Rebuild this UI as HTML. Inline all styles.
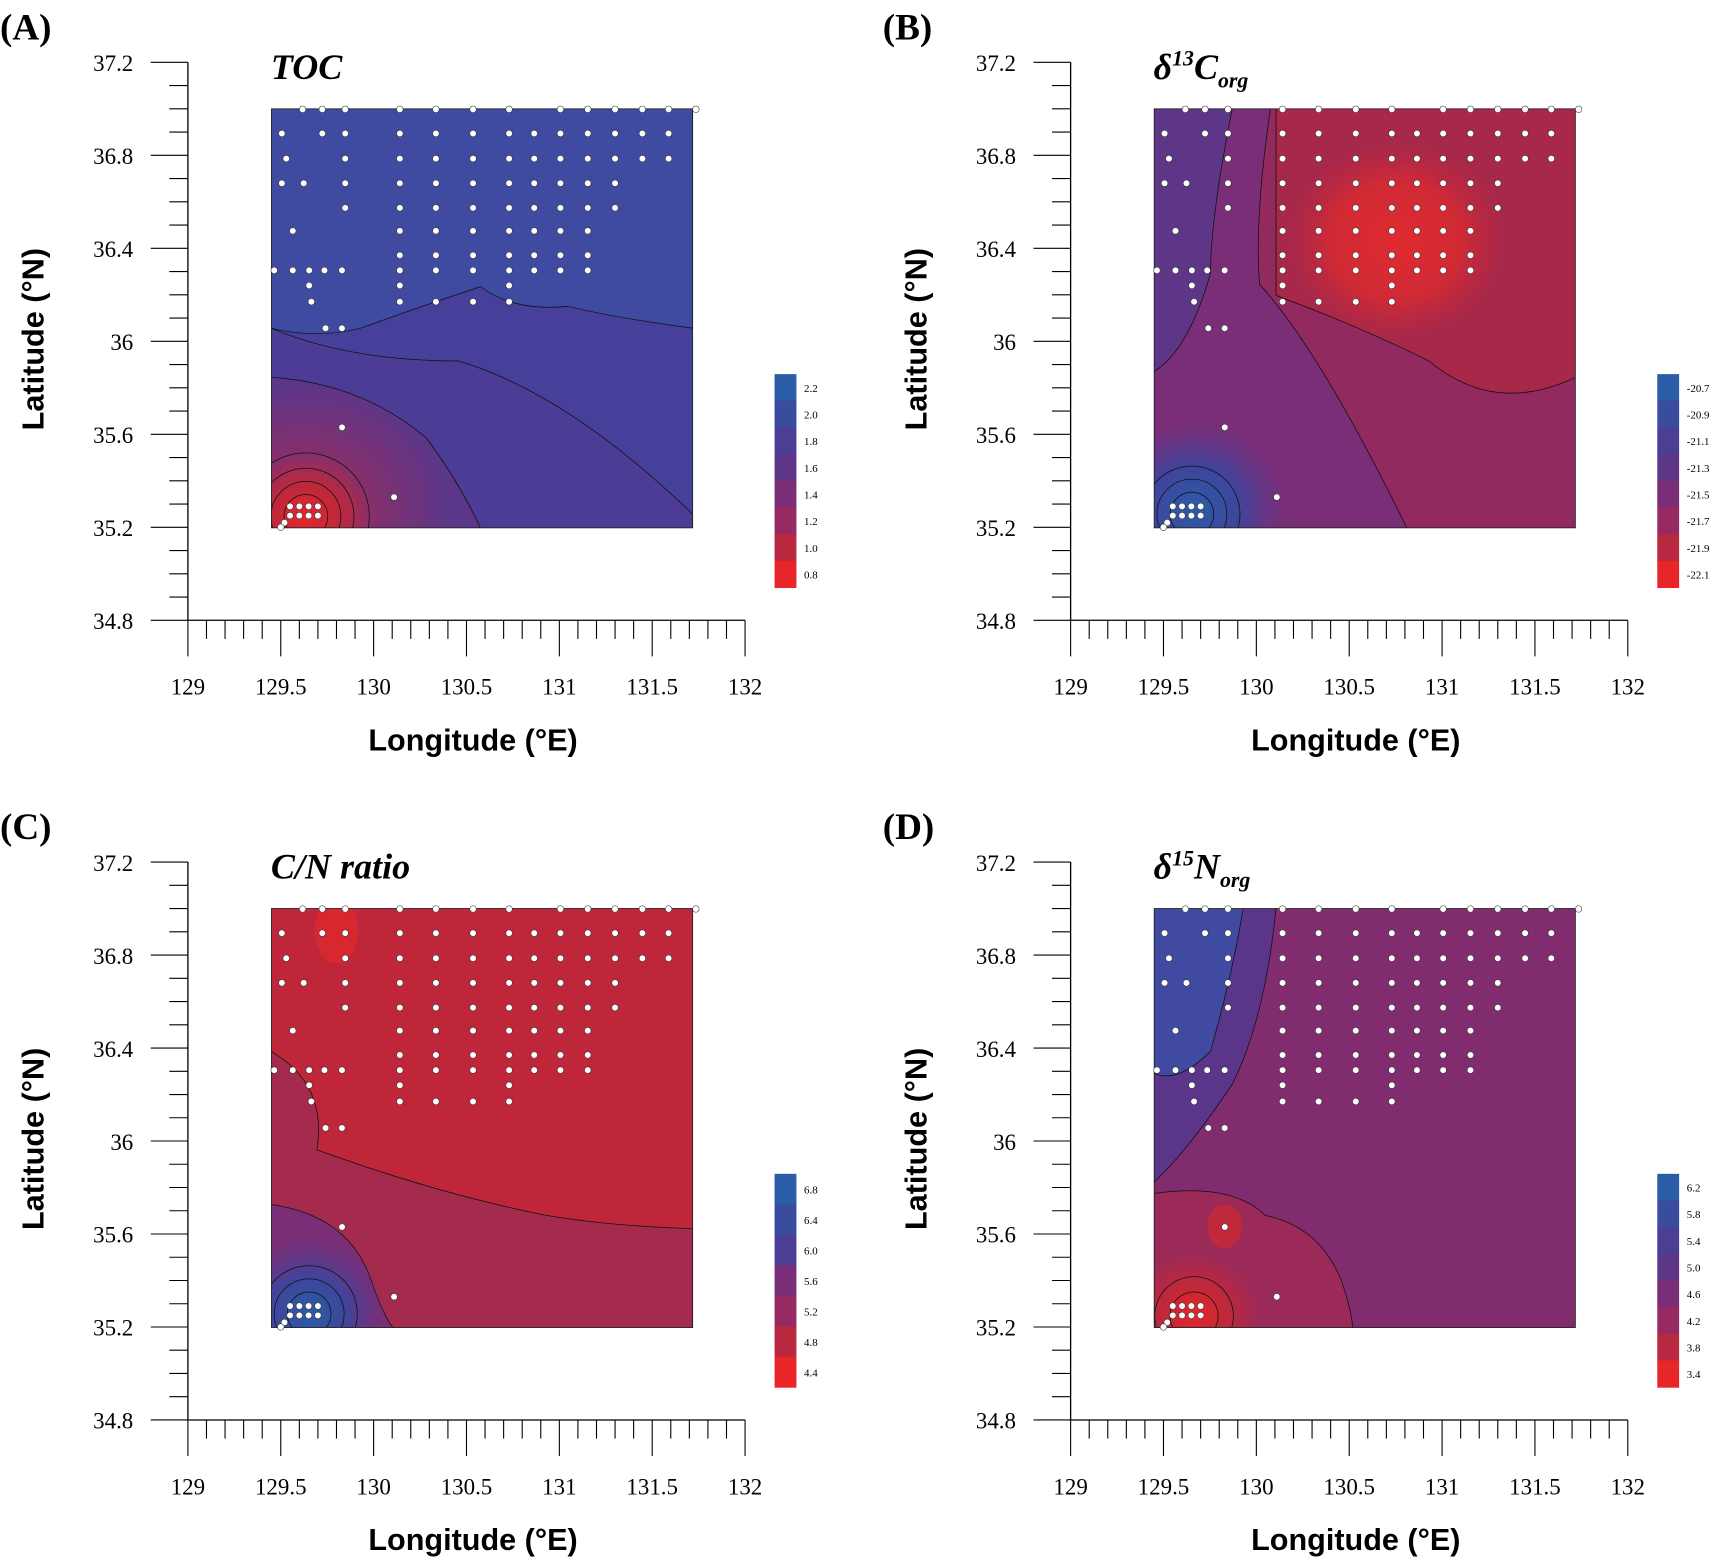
<!DOCTYPE html>
<html><head><meta charset="utf-8"><style>
html,body{margin:0;padding:0;background:#fff}
svg{display:block}
text{font-family:"Liberation Sans",sans-serif}
.serif{font-family:"Liberation Serif",serif}
</style></head><body>
<svg id="fig" width="1713" height="1560" viewBox="0 0 1568 1426" preserveAspectRatio="none" xmlns="http://www.w3.org/2000/svg">
<defs>
<radialGradient id="gRed"><stop offset="0" stop-color="#e8262a"/><stop offset="0.45" stop-color="#c22838"/><stop offset="1" stop-color="#c22838" stop-opacity="0"/></radialGradient>
<radialGradient id="gBlue"><stop offset="0" stop-color="#2a5ca8"/><stop offset="0.5" stop-color="#40449a"/><stop offset="1" stop-color="#5a3a8e" stop-opacity="0"/></radialGradient>
<radialGradient id="gMag"><stop offset="0" stop-color="#a82a52"/><stop offset="1" stop-color="#a82a52" stop-opacity="0"/></radialGradient>
<radialGradient id="gBrightRed"><stop offset="0" stop-color="#e02a30"/><stop offset="0.6" stop-color="#d02a35"/><stop offset="1" stop-color="#c0283c" stop-opacity="0"/></radialGradient>
<clipPath id="clipData"><rect x="248.5" y="99.5" width="385.5" height="383"/></clipPath>
</defs>
</svg>
<script>
// ---- data ----
const panelLetters = ["(A)","(B)","(C)","(D)"];
const panelOffsets = [[0,0],[808,0],[0,731],[808,731]];
const yTicks = [37.2,36.8,36.4,36,35.6,35.2,34.8];
const xTicks = [129,129.5,130,130.5,131,131.5,132];
const cbLabelsA = ["2.2","2.0","1.8","1.6","1.4","1.2","1.0","0.8"];
const cbLabelsB = ["-20.7","-20.9","-21.1","-21.3","-21.5","-21.7","-21.9","-22.1"];
const cbLabelsC = ["6.8","6.4","6.0","5.6","5.2","4.8","4.4"];
const cbLabelsD = ["6.2","5.8","5.4","5.0","4.6","4.2","3.8","3.4"];
const cbColors = ["#2a5ca8","#3a4c9e","#4a3f94","#5e3688","#7a2e78","#972a62","#b8283f","#e8262a"];
// station positions (lon, lat)
const stationLon = [], stationLat = [];
const rowLat = [36.998,36.894,36.786,36.68,36.574,36.475,36.37,36.305,36.24,36.17,36.056];
const rowX = [
 [277,295,316,366,399,433,466,513,538,563,588,612,637],
 [258,295,316,366,399,433,466,489,513,538,563,588,612],
 [262,316,366,399,433,466,489,513,538,563,588,612],
 [258,278,316,366,399,433,466,489,513,538,563],
 [316,366,399,433,466,489,513,538,563],
 [268,366,399,433,466,489,513,538],
 [366,399,433,466,489,513,538],
 [251,268,283,297,313,366,399,433,466,489,513,538],
 [283,366,466],
 [285,366,399,433,466],
 [298,313]
];
rowX.forEach((r,i)=>r.forEach(x=>{stationLon.push((x-172)/170+129);stationLat.push(rowLat[i]);}));
const extraLon=[129.83,130.11,129.55,129.6,129.65,129.7,129.55,129.6,129.65,129.7,129.52,129.5];
const extraLat=[35.63,35.33,35.29,35.29,35.29,35.29,35.25,35.25,35.25,35.25,35.22,35.2];
extraLon.forEach((v,i)=>{stationLon.push(v);stationLat.push(extraLat[i]);});

// ---- axes ----
const X = lon => 172 + (lon-129)*170;
const Y = lat => 57 + (37.2-lat)*212.5;
const NS="http://www.w3.org/2000/svg";
const svg=document.getElementById('fig');
function el(tag,attrs,parent,txt){const e=document.createElementNS(NS,tag);for(const k in attrs)e.setAttribute(k,attrs[k]);if(txt!==undefined)e.textContent=txt;parent.appendChild(e);return e;}
function rings(g,cx,cy,rs){rs.forEach(r=>el('circle',{cx:cx,cy:cy,r:r,fill:'none',stroke:'#111','stroke-width':0.7},g));}

const fills = [
 // A
 g=>{el('rect',{x:248,y:99,width:387,height:384,fill:'#46409a'},g);
  el('path',{d:'M248 99 H634 V300 Q560 290 520 280 Q470 285 440 262 Q400 275 330 300 Q290 310 248 300 Z',fill:'#3f4ba0'},g);
  el('path',{d:'M248 300 Q320 330 420 330 Q520 360 634 470 V483 H248 Z',fill:'#4c3c95'},g);
  el('path',{d:'M248 345 Q330 350 390 400 Q420 440 440 483 H248 Z',fill:'#5c3689'},g);
  el('ellipse',{cx:280,cy:470,rx:130,ry:120,fill:'url(#gMag)'},g);
  el('ellipse',{cx:280,cy:472,rx:60,ry:55,fill:'url(#gRed)'},g);
  rings(g,280,472,[20,32,44,58]);},
 // B
 g=>{el('rect',{x:248,y:99,width:387,height:384,fill:'#922a60'},g);
  el('path',{d:'M248 99 H355 Q340 200 345 260 Q400 320 480 483 H248 Z',fill:'#7a2e78'},g);
  el('path',{d:'M248 99 H320 Q300 200 300 250 Q280 320 248 340 Z',fill:'#5e3688'},g);
  el('path',{d:'M360 99 H634 V345 Q560 380 500 330 Q440 300 360 270 Z',fill:'#a8284a'},g);
  el('ellipse',{cx:470,cy:220,rx:100,ry:90,fill:'url(#gBrightRed)'},g);
  el('ellipse',{cx:285,cy:465,rx:85,ry:80,fill:'url(#gBlue)'},g);
  rings(g,283,470,[20,32,44]);},
 // C
 g=>{el('rect',{x:248,y:99,width:387,height:384,fill:'#c0263a'},g);
  el('path',{d:'M248 230 Q300 260 290 320 Q400 360 500 380 Q560 390 634 392 V483 H248 Z',fill:'#a42a4e'},g);
  el('path',{d:'M248 370 Q320 380 340 440 Q350 470 360 483 H248 Z',fill:'#7a2e76'},g);
  el('ellipse',{cx:283,cy:470,rx:70,ry:70,fill:'url(#gBlue)'},g);
  el('ellipse',{cx:308,cy:120,rx:20,ry:30,fill:'#d6282e'},g);
  rings(g,283,470,[20,32,44]);},
 // D
 g=>{el('rect',{x:248,y:99,width:387,height:384,fill:'#822c70'},g);
  el('path',{d:'M248 99 H360 Q350 200 320 260 Q280 320 248 350 Z',fill:'#5a3589'},g);
  el('path',{d:'M248 99 H330 Q320 160 300 230 Q270 260 248 250 Z',fill:'#3f4aa0'},g);
  el('path',{d:'M248 360 Q320 350 350 380 Q400 390 420 440 Q430 470 430 483 H248 Z',fill:'#9c2a58'},g);
  el('ellipse',{cx:285,cy:470,rx:60,ry:55,fill:'url(#gRed)'},g);
  el('ellipse',{cx:313,cy:390,rx:16,ry:20,fill:'#c0283c'},g);
  rings(g,285,472,[22,36]);}
];
const titles=[["TOC",""],["δ","13","C","org"],["C/N ratio",""],["δ","15","N","org"]];
const cbLabels=[cbLabelsA,cbLabelsB,cbLabelsC,cbLabelsD];

panelOffsets.forEach((off,p)=>{
 const g=el('g',{transform:`translate(${off[0]},${off[1]})`},svg);
 
 
 const lt=el('text',{x:0,y:36,'font-size':34,'font-weight':'bold',class:'serif'},g,panelLetters[p]);
 
 
 const mg=el('g',{'clip-path':'url(#clipData)'},g);
 
 
 fills[p](mg);
 mg.querySelectorAll('path').forEach(pp=>{pp.setAttribute('stroke','#111');pp.setAttribute('stroke-width','0.7');});
 el('rect',{x:248.5,y:99.5,width:385.5,height:383,fill:'none',stroke:'#222','stroke-width':0.8},g);
 stationLon.forEach((lo,i)=>{
  const c=el('circle',{cx:X(lo),cy:Y(stationLat[i]),r:3,fill:'#fff',stroke:'#333','stroke-width':0.5},g);
  
  
 });
 el('line',{x1:172,y1:Y(37.2),x2:172,y2:Y(34.8),stroke:'#000','stroke-width':1.2},g);
 for(let v=34.8;v<=37.2001;v+=0.1){const maj=yTicks.some(t=>Math.abs(t-v)<1e-6);
  el('line',{x1:maj?138:155,y1:Y(v),x2:172,y2:Y(v),stroke:'#000','stroke-width':1},g);}
 yTicks.forEach(t=>{const tx=el('text',{x:122,y:Y(t)+8,'font-size':21,'text-anchor':'end',class:'serif'},g,String(t));
  });
 el('line',{x1:172,y1:567,x2:682,y2:567,stroke:'#000','stroke-width':1.2},g);
 for(let v=129;v<=132.001;v+=0.1){const maj=xTicks.some(t=>Math.abs(t-v)<1e-6);
  el('line',{x1:X(v),y1:567,x2:X(v),y2:maj?600:584,stroke:'#000','stroke-width':1},g);}
 xTicks.forEach(t=>{const tx=el('text',{x:X(t),y:635,'font-size':21,'text-anchor':'middle',class:'serif'},g,String(t));
  });
 const yt=el('text',{x:0,y:0,transform:'translate(40,310) rotate(-90)','font-size':28,'font-weight':'bold','text-anchor':'middle'},g,'Latitude (°N)');
 
 const xt=el('text',{x:433,y:686,'font-size':28,'font-weight':'bold','text-anchor':'middle'},g,'Longitude (°E)');
 
 const t=titles[p];
 const tt=el('text',{x:248,y:72,'font-size':33,'font-weight':'bold','font-style':'italic',class:'serif'},g);
 
 if(t.length==2){tt.textContent=t[0];}else{
  el('tspan',{},tt,t[0]);el('tspan',{dy:-12,'font-size':20},tt,t[1]);el('tspan',{dy:12},tt,t[2]);el('tspan',{dy:8,'font-size':20},tt,t[3]);}
 const labs=cbLabels[p]; const n=labs.length; const cy0=342, ch=195; const bh=ch/n;
 const cb=el('g',{},g);
 for(let i=0;i<n;i++){const col=cbColors[Math.round(i*(cbColors.length-1)/(n-1))];
  el('rect',{x:709,y:cy0+i*bh,width:20,height:bh+0.5,fill:col},cb);
  const l=el('text',{x:736,y:cy0+i*bh+bh/2+4,'font-size':10,class:'serif'},cb,labs[i]);
  }
});
</script>
</body></html>
